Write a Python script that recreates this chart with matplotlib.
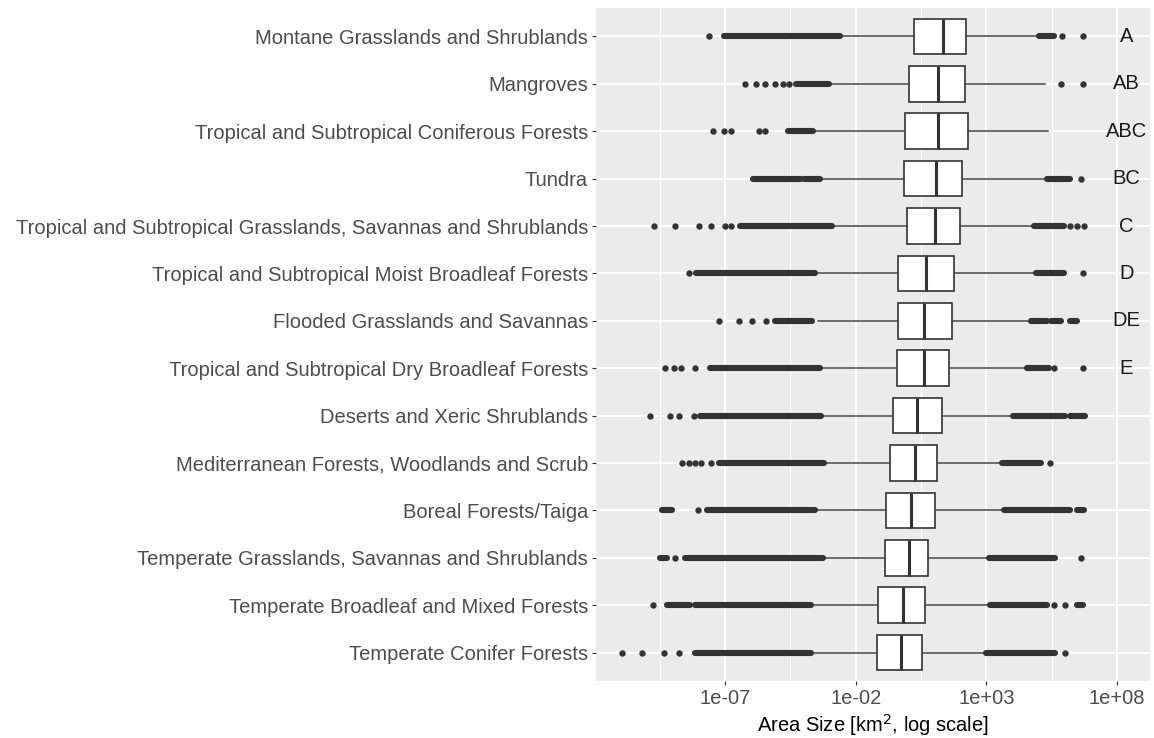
import matplotlib
matplotlib.use("Agg")
import matplotlib.pyplot as plt
import numpy as np
from matplotlib.ticker import FixedLocator, FixedFormatter, NullFormatter

plt.rcParams['font.family'] = ['Liberation Sans', 'DejaVu Sans']

# biomes, top to bottom
biomes = ["Montane Grasslands and Shrublands",
          "Mangroves",
          "Tropical and Subtropical Coniferous Forests",
          "Tundra",
          "Tropical and Subtropical Grasslands, Savannas and Shrublands",
          "Tropical and Subtropical Moist Broadleaf Forests",
          "Flooded Grasslands and Savannas",
          "Tropical and Subtropical Dry Broadleaf Forests",
          "Deserts and Xeric Shrublands",
          "Mediterranean Forests, Woodlands and Scrub",
          "Boreal Forests/Taiga",
          "Temperate Grasslands, Savannas and Shrublands",
          "Temperate Broadleaf and Mixed Forests",
          "Temperate Conifer Forests"]
letters = ["A", "AB", "ABC", "BC", "C", "D", "DE", "E", "", "", "", "", "", ""]

# box statistics as log10(km2)
q1 = [0.23, 0.04, -0.11, -0.17, -0.03, -0.39, -0.39, -0.44, -0.58, -0.69, -0.85, -0.88, -1.13, -1.19]
med = [1.32, 1.16, 1.13, 1.06, 1.02, 0.68, 0.61, 0.61, 0.35, 0.28, 0.13, 0.02, -0.20, -0.28]
q3 = [2.21, 2.18, 2.29, 2.07, 1.98, 1.77, 1.67, 1.57, 1.29, 1.09, 1.02, 0.76, 0.64, 0.54]
whis_lo = [-2.58, -3.00, -3.60, -3.35, -2.87, -3.53, -3.45, -3.35, -3.31, -3.17, -3.53, -3.22, -3.69, -3.69]
whis_hi = [5.02, 5.25, 5.36, 5.30, 4.84, 4.91, 4.71, 4.57, 4.02, 3.61, 3.68, 3.11, 3.14, 3.00]

# single outliers (log10 km2)
out_points = [
    [-7.61, 5.90, 6.69],
    [-6.22, -5.80, -5.47, -5.09, -4.79, -4.57, 5.84, 6.69],
    [-7.45, -7.04, -6.77, -5.72, -5.47],
    [6.62],
    [-9.73, -8.93, -8.00, -7.55, -7.00, -6.77, 6.21, 6.48, 6.72],
    [-8.38, 6.69],
    [-7.25, -6.48, -5.98, -5.43],
    [-9.30, -8.95, -8.68, -8.17, 5.57, 6.69],
    [-9.87, -9.09, -8.75, -8.20],
    [-8.64, -8.37, -8.16, -7.93, -7.55, 5.43],
    [-8.04],
    [-8.91, 6.63],
    [-9.77, 5.57, 6.00],
    [-10.96, -10.18, -9.34, -8.75, 6.00],
]
# runs of overlapping outliers (log10 km2, from, to)
out_runs = [
    [(-7.04, -2.62), (5.02, 5.60)],
    [(-4.27, -3.04)],
    [(-4.58, -3.63)],
    [(-5.92, -4.10), (-3.97, -3.38), (5.30, 6.21)],
    [(-6.43, -2.90), (4.84, 5.98)],
    [(-8.11, -3.56), (4.91, 5.98)],
    [(-5.09, -3.69), (4.71, 5.32), (5.46, 5.84), (6.21, 6.48)],
    [(-7.59, -3.38), (4.57, 5.39)],
    [(-7.97, -3.34), (4.02, 6.00), (6.21, 6.76)],
    [(-7.22, -3.20), (3.61, 5.08)],
    [(-9.43, -9.05), (-7.68, -3.56), (3.68, 6.21), (6.48, 6.72)],
    [(-9.50, -9.23), (-8.54, -3.25), (3.11, 5.62)],
    [(-9.23, -8.34), (-8.17, -3.72), (3.14, 5.32), (6.48, 6.69)],
    [(-8.17, -3.72), (3.00, 5.62)],
]

major_exp = [-7, -2, 3, 8]
major_lab = ["1e-07", "1e-02", "1e+03", "1e+08"]
minor_exp = [-9.5, -4.5, 0.5, 5.5]

dark = "#333333"
n = len(biomes)
ypos = np.arange(n, 0, -1)

fig = plt.figure(figsize=(11.54, 7.38), dpi=100)
ax = fig.add_axes([596 / 1154, 1 - 681 / 738, 554 / 1154, 673 / 738])
ax.set_facecolor("#EBEBEB")
for s in ax.spines.values():
    s.set_visible(False)

stats = []
for i in range(n):
    stats.append(dict(med=10 ** med[i], q1=10 ** q1[i], q3=10 ** q3[i],
                      whislo=10 ** whis_lo[i], whishi=10 ** whis_hi[i], fliers=[]))
ax.bxp(stats, positions=ypos, widths=0.75, vert=False, showcaps=False,
       showfliers=False, patch_artist=True,
       boxprops=dict(facecolor="white", edgecolor=dark, linewidth=1.2),
       whiskerprops=dict(color="#444444", linewidth=1.1),
       medianprops=dict(color=dark, linewidth=2.2),
       zorder=3)

for i in range(n):
    y = ypos[i]
    for lo, hi in out_runs[i]:
        ax.plot([10 ** lo, 10 ** hi], [y, y], color=dark, lw=4.4,
                solid_capstyle="round", zorder=4)
    pts = np.array(out_points[i])
    ax.plot(10 ** pts, np.full(len(pts), y), "o", ms=4.6, color=dark,
            mec="none", zorder=4)
    if letters[i]:
        ax.text(10 ** 8.35, y, letters[i], ha="center", va="center",
                fontsize=14.5, color="#1a1a1a", zorder=5)

ax.set_xscale("log")
ax.set_xlim(10 ** -11.94, 10 ** 9.26)
ax.set_ylim(0.4, n + 0.6)

ax.xaxis.set_major_locator(FixedLocator([10.0 ** e for e in major_exp]))
ax.xaxis.set_major_formatter(FixedFormatter(major_lab))
ax.xaxis.set_minor_locator(FixedLocator([10.0 ** e for e in minor_exp]))
ax.xaxis.set_minor_formatter(NullFormatter())
ax.set_yticks(ypos)
ax.set_yticklabels(biomes)

ax.grid(which="major", color="white", lw=1.4, zorder=0)
ax.grid(which="minor", axis="x", color="white", lw=0.7, zorder=0)
ax.set_axisbelow(True)

ax.tick_params(axis="both", which="major", length=3.2, width=0.8, color=dark,
               labelsize=14.5, labelcolor="#4D4D4D", pad=2.5)
ax.tick_params(axis="x", which="minor", length=0)
ax.set_xlabel("Area Size [km$^2$, log scale]", fontsize=14.5, color="black", labelpad=3)

fig.savefig("out.png", dpi=100)
